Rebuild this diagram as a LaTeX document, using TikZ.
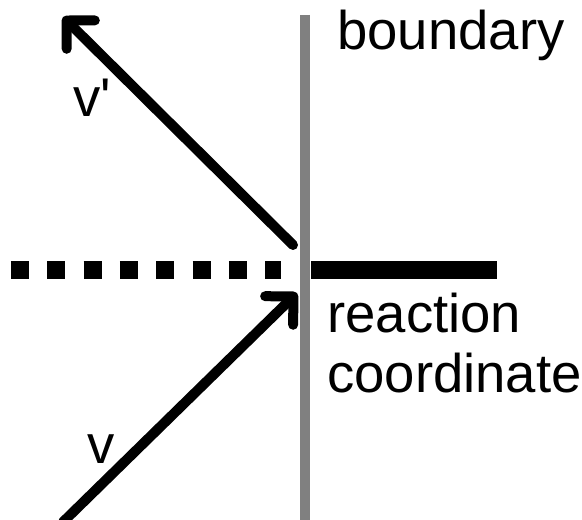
\documentclass[tikz,border=0pt]{standalone}
\usepackage{fontspec}
\setmainfont{Liberation Sans}
\usepackage{xcolor}
\colorlet{mygray}{black!50}
\usetikzlibrary{arrows.meta}

\begin{document}
\begin{tikzpicture}[font=\fontsize{31}{34.7}\selectfont,
    vec/.style={line width=2mm, line cap=round, -{Straight Barb[length=4mm, width=8mm, round]}},
    axis/.style={line width=3.5mm}]
      \useasboundingbox (-6.1cm,-5cm) rectangle (5.54cm,5.4cm);
      \coordinate (T) at (0cm,5.1cm);
      \coordinate (B) at (0cm,-5.1cm);
      \draw[mygray, line width=2mm] (T) -- (B);
      \node[anchor=base west, inner sep=0pt] (bnd) at (0.64cm,4.4cm) {boundary};
      
      % reaction coordinate, left and right of the boundary
      \coordinate (L) at (-5.88cm,0cm);
      \coordinate (M) at (-0.48cm,0cm);
      \draw[axis, dash pattern=on 3.6mm off 3.66mm] (L) -- (M);
      \coordinate (N) at (0.12cm,0cm);
      \coordinate (R) at (3.84cm,0cm);
      \draw[axis] (N) -- (R);
      \node[anchor=base west, inner sep=0pt, align=left] (rc) at (0.44cm,-2.46cm) {reaction\\coordinate};
      
      % incoming and reflected velocity
      \coordinate (Vs) at (-4.84cm,-5.04cm);
      \coordinate (Vt) at (-0.16cm,-0.46cm);
      \draw[vec] (Vs) -- (Vt);
      \node[anchor=base west, inner sep=0pt] (vin) at (-4.36cm,-3.86cm) {v};
      \coordinate (Ws) at (-0.24cm,0.5cm);
      \coordinate (Wt) at (-4.84cm,5.06cm);
      \draw[vec] (Ws) -- (Wt);
      \node[anchor=base west, inner sep=0pt] (vout) at (-4.64cm,3.06cm) {v\textquotesingle};
\end{tikzpicture}
\end{document}
